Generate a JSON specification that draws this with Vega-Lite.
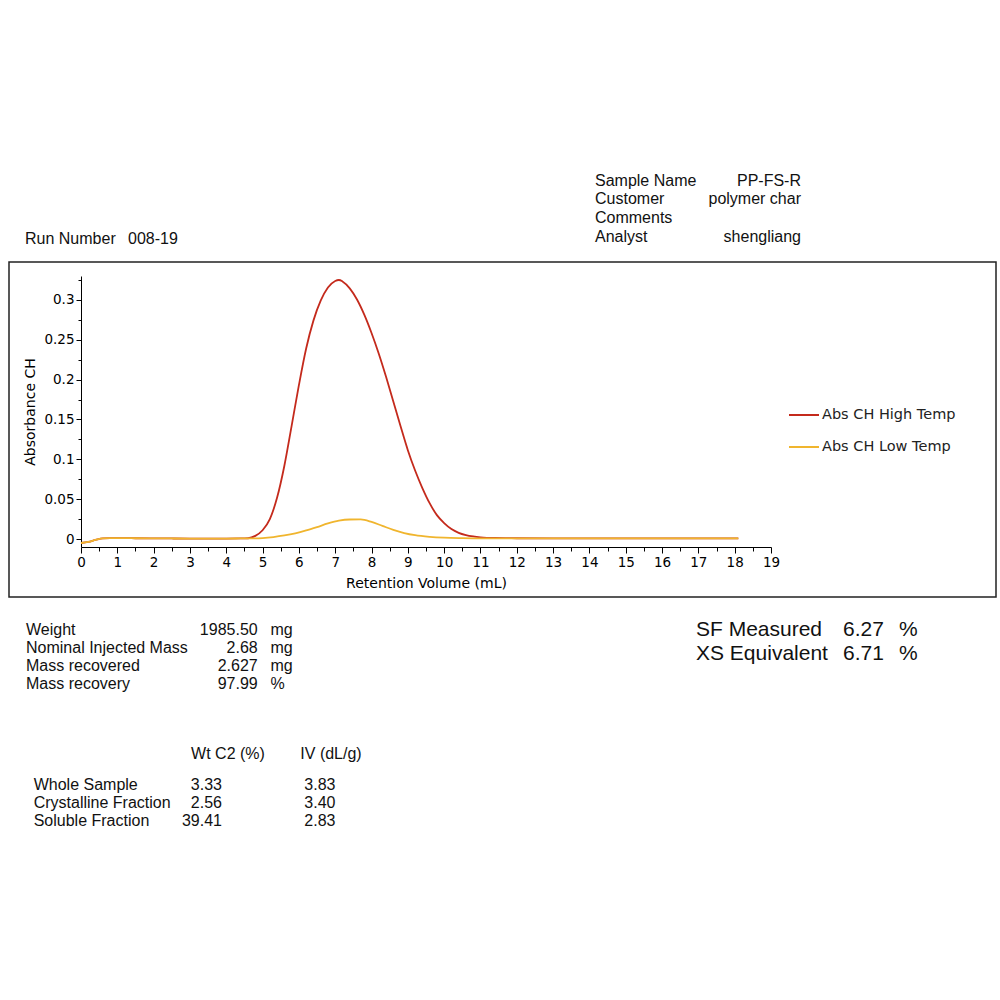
{
  "$schema": "https://vega.github.io/schema/vega-lite/v6.json",
  "padding": {"left": 8, "top": 170, "right": 0, "bottom": 0},
  "bounds": "flush",
  "spacing": 0,
  "background": "white",
  "config": {"view": {"stroke": null}},
  "datasets": {
    "header": [
      {"block": "run", "col": "label", "row": 4, "text": "Run Number"},
      {"block": "run", "col": "value", "row": 4, "text": "008-19"},
      {"block": "meta", "col": "label", "row": 1, "text": "Sample Name"},
      {"block": "meta", "col": "value", "row": 1, "text": "PP-FS-R"},
      {"block": "meta", "col": "label", "row": 2, "text": "Customer"},
      {"block": "meta", "col": "value", "row": 2, "text": "polymer char"},
      {"block": "meta", "col": "label", "row": 3, "text": "Comments"},
      {"block": "meta", "col": "label", "row": 4, "text": "Analyst"},
      {"block": "meta", "col": "value", "row": 4, "text": "shengliang"}
    ],
    "mass": [
      {"row": 1, "col": "label", "text": "Weight"},
      {"row": 1, "col": "value", "text": "1985.50"},
      {"row": 1, "col": "unit", "text": "mg"},
      {"row": 2, "col": "label", "text": "Nominal Injected Mass"},
      {"row": 2, "col": "value", "text": "2.68"},
      {"row": 2, "col": "unit", "text": "mg"},
      {"row": 3, "col": "label", "text": "Mass recovered"},
      {"row": 3, "col": "value", "text": "2.627"},
      {"row": 3, "col": "unit", "text": "mg"},
      {"row": 4, "col": "label", "text": "Mass recovery"},
      {"row": 4, "col": "value", "text": "97.99"},
      {"row": 4, "col": "unit", "text": "%"}
    ],
    "sf": [
      {"row": 1, "col": "label", "text": "SF Measured"},
      {"row": 1, "col": "value", "text": "6.27"},
      {"row": 1, "col": "unit", "text": "%"},
      {"row": 2, "col": "label", "text": "XS Equivalent"},
      {"row": 2, "col": "value", "text": "6.71"},
      {"row": 2, "col": "unit", "text": "%"}
    ],
    "fractions": [
      {"row": 0, "col": "c1", "text": "Wt C2 (%)"},
      {"row": 0, "col": "c2", "text": "IV (dL/g)"},
      {"row": 1, "col": "label", "text": "Whole Sample"},
      {"row": 1, "col": "c1", "text": "3.33"},
      {"row": 1, "col": "c2", "text": "3.83"},
      {"row": 2, "col": "label", "text": "Crystalline Fraction"},
      {"row": 2, "col": "c1", "text": "2.56"},
      {"row": 2, "col": "c2", "text": "3.40"},
      {"row": 3, "col": "label", "text": "Soluble Fraction"},
      {"row": 3, "col": "c1", "text": "39.41"},
      {"row": 3, "col": "c2", "text": "2.83"}
    ],
    "curves": [
      {"series": "Abs CH High Temp", "volume": 0, "absorbance": -0.005},
      {"series": "Abs CH High Temp", "volume": 0.2, "absorbance": -0.0035},
      {"series": "Abs CH High Temp", "volume": 0.4, "absorbance": -0.0012},
      {"series": "Abs CH High Temp", "volume": 0.6, "absorbance": 0.0008},
      {"series": "Abs CH High Temp", "volume": 0.8, "absorbance": 0.0012},
      {"series": "Abs CH High Temp", "volume": 1.0, "absorbance": 0.0012},
      {"series": "Abs CH High Temp", "volume": 1.5, "absorbance": 0.001},
      {"series": "Abs CH High Temp", "volume": 2.0, "absorbance": 0.0008},
      {"series": "Abs CH High Temp", "volume": 2.5, "absorbance": 0.0007},
      {"series": "Abs CH High Temp", "volume": 3.0, "absorbance": 0.0006},
      {"series": "Abs CH High Temp", "volume": 3.5, "absorbance": 0.0006},
      {"series": "Abs CH High Temp", "volume": 4.0, "absorbance": 0.0006},
      {"series": "Abs CH High Temp", "volume": 4.4, "absorbance": 0.0007},
      {"series": "Abs CH High Temp", "volume": 4.6, "absorbance": 0.001},
      {"series": "Abs CH High Temp", "volume": 4.8, "absorbance": 0.004},
      {"series": "Abs CH High Temp", "volume": 5.0, "absorbance": 0.011},
      {"series": "Abs CH High Temp", "volume": 5.2, "absorbance": 0.025},
      {"series": "Abs CH High Temp", "volume": 5.4, "absorbance": 0.052},
      {"series": "Abs CH High Temp", "volume": 5.6, "absorbance": 0.092},
      {"series": "Abs CH High Temp", "volume": 5.8, "absorbance": 0.142},
      {"series": "Abs CH High Temp", "volume": 6.0, "absorbance": 0.193},
      {"series": "Abs CH High Temp", "volume": 6.2, "absorbance": 0.239},
      {"series": "Abs CH High Temp", "volume": 6.4, "absorbance": 0.274},
      {"series": "Abs CH High Temp", "volume": 6.6, "absorbance": 0.299},
      {"series": "Abs CH High Temp", "volume": 6.8, "absorbance": 0.3155},
      {"series": "Abs CH High Temp", "volume": 7.0, "absorbance": 0.3238},
      {"series": "Abs CH High Temp", "volume": 7.1, "absorbance": 0.325},
      {"series": "Abs CH High Temp", "volume": 7.2, "absorbance": 0.3232},
      {"series": "Abs CH High Temp", "volume": 7.4, "absorbance": 0.3145},
      {"series": "Abs CH High Temp", "volume": 7.6, "absorbance": 0.3005},
      {"series": "Abs CH High Temp", "volume": 7.8, "absorbance": 0.2815},
      {"series": "Abs CH High Temp", "volume": 8.0, "absorbance": 0.2585},
      {"series": "Abs CH High Temp", "volume": 8.2, "absorbance": 0.2325},
      {"series": "Abs CH High Temp", "volume": 8.4, "absorbance": 0.2035},
      {"series": "Abs CH High Temp", "volume": 8.6, "absorbance": 0.1725},
      {"series": "Abs CH High Temp", "volume": 8.8, "absorbance": 0.1415},
      {"series": "Abs CH High Temp", "volume": 9.0, "absorbance": 0.1115},
      {"series": "Abs CH High Temp", "volume": 9.2, "absorbance": 0.086},
      {"series": "Abs CH High Temp", "volume": 9.4, "absorbance": 0.064},
      {"series": "Abs CH High Temp", "volume": 9.6, "absorbance": 0.045},
      {"series": "Abs CH High Temp", "volume": 9.8, "absorbance": 0.030},
      {"series": "Abs CH High Temp", "volume": 10.0, "absorbance": 0.020},
      {"series": "Abs CH High Temp", "volume": 10.2, "absorbance": 0.0125},
      {"series": "Abs CH High Temp", "volume": 10.4, "absorbance": 0.0078},
      {"series": "Abs CH High Temp", "volume": 10.6, "absorbance": 0.005},
      {"series": "Abs CH High Temp", "volume": 10.8, "absorbance": 0.0033},
      {"series": "Abs CH High Temp", "volume": 11.0, "absorbance": 0.0022},
      {"series": "Abs CH High Temp", "volume": 11.4, "absorbance": 0.0013},
      {"series": "Abs CH High Temp", "volume": 12.0, "absorbance": 0.001},
      {"series": "Abs CH High Temp", "volume": 13.0, "absorbance": 0.0008},
      {"series": "Abs CH High Temp", "volume": 14.0, "absorbance": 0.0008},
      {"series": "Abs CH High Temp", "volume": 15.0, "absorbance": 0.0008},
      {"series": "Abs CH High Temp", "volume": 16.0, "absorbance": 0.0008},
      {"series": "Abs CH High Temp", "volume": 17.0, "absorbance": 0.0008},
      {"series": "Abs CH High Temp", "volume": 18.1, "absorbance": 0.0008},
      {"series": "Abs CH Low Temp", "volume": 0, "absorbance": -0.005},
      {"series": "Abs CH Low Temp", "volume": 0.2, "absorbance": -0.0035},
      {"series": "Abs CH Low Temp", "volume": 0.4, "absorbance": -0.0012},
      {"series": "Abs CH Low Temp", "volume": 0.6, "absorbance": 0.0008},
      {"series": "Abs CH Low Temp", "volume": 0.8, "absorbance": 0.0012},
      {"series": "Abs CH Low Temp", "volume": 1.0, "absorbance": 0.0012},
      {"series": "Abs CH Low Temp", "volume": 1.5, "absorbance": 0.001},
      {"series": "Abs CH Low Temp", "volume": 2.0, "absorbance": 0.0008},
      {"series": "Abs CH Low Temp", "volume": 2.5, "absorbance": 0.0007},
      {"series": "Abs CH Low Temp", "volume": 3.0, "absorbance": 0.0006},
      {"series": "Abs CH Low Temp", "volume": 3.5, "absorbance": 0.0006},
      {"series": "Abs CH Low Temp", "volume": 4.0, "absorbance": 0.0006},
      {"series": "Abs CH Low Temp", "volume": 4.4, "absorbance": 0.0007},
      {"series": "Abs CH Low Temp", "volume": 4.8, "absorbance": 0.0008},
      {"series": "Abs CH Low Temp", "volume": 5.0, "absorbance": 0.0012},
      {"series": "Abs CH Low Temp", "volume": 5.3, "absorbance": 0.0025},
      {"series": "Abs CH Low Temp", "volume": 5.6, "absorbance": 0.0045},
      {"series": "Abs CH Low Temp", "volume": 5.9, "absorbance": 0.0072},
      {"series": "Abs CH Low Temp", "volume": 6.2, "absorbance": 0.0108},
      {"series": "Abs CH Low Temp", "volume": 6.5, "absorbance": 0.015},
      {"series": "Abs CH Low Temp", "volume": 6.8, "absorbance": 0.0195},
      {"series": "Abs CH Low Temp", "volume": 7.1, "absorbance": 0.023},
      {"series": "Abs CH Low Temp", "volume": 7.4, "absorbance": 0.0245},
      {"series": "Abs CH Low Temp", "volume": 7.7, "absorbance": 0.0246},
      {"series": "Abs CH Low Temp", "volume": 8.0, "absorbance": 0.0215},
      {"series": "Abs CH Low Temp", "volume": 8.3, "absorbance": 0.0165},
      {"series": "Abs CH Low Temp", "volume": 8.6, "absorbance": 0.0115},
      {"series": "Abs CH Low Temp", "volume": 8.9, "absorbance": 0.0075},
      {"series": "Abs CH Low Temp", "volume": 9.2, "absorbance": 0.0048},
      {"series": "Abs CH Low Temp", "volume": 9.6, "absorbance": 0.0028},
      {"series": "Abs CH Low Temp", "volume": 10.0, "absorbance": 0.0017},
      {"series": "Abs CH Low Temp", "volume": 10.5, "absorbance": 0.0011},
      {"series": "Abs CH Low Temp", "volume": 11.0, "absorbance": 0.0008},
      {"series": "Abs CH Low Temp", "volume": 12.0, "absorbance": 0.0008},
      {"series": "Abs CH Low Temp", "volume": 13.0, "absorbance": 0.0008},
      {"series": "Abs CH Low Temp", "volume": 14.0, "absorbance": 0.0008},
      {"series": "Abs CH Low Temp", "volume": 15.0, "absorbance": 0.0008},
      {"series": "Abs CH Low Temp", "volume": 16.0, "absorbance": 0.0008},
      {"series": "Abs CH Low Temp", "volume": 17.0, "absorbance": 0.0008},
      {"series": "Abs CH Low Temp", "volume": 18.1, "absorbance": 0.0008}
    ]
  },
  "vconcat": [
    {
      "width": 987,
      "height": 92,
      "data": {"name": "header"},
      "layer": [
        {
          "transform": [{"filter": "datum.block === 'run'"}],
          "mark": {"type": "text", "align": "left", "baseline": "middle", "font": "Liberation Sans", "fontSize": 16, "color": "#111", "dy": 2.5},
          "encoding": {
            "x": {"field": "col", "type": "nominal", "axis": null, "scale": {"type": "point", "domain": ["label", "value"], "range": [16, 119], "padding": 0}},
            "y": {"field": "row", "type": "ordinal", "axis": null, "scale": {"type": "point", "domain": [1, 2, 3, 4], "range": [10.5, 66.5], "padding": 0}},
            "text": {"field": "text"}
          }
        },
        {
          "transform": [{"filter": "datum.block === 'meta' && datum.col === 'label'"}],
          "mark": {"type": "text", "align": "left", "baseline": "middle", "font": "Liberation Sans", "fontSize": 16, "color": "#111"},
          "encoding": {
            "x": {"field": "col", "type": "nominal", "axis": null, "scale": {"type": "point", "domain": ["label"], "range": [586, 586], "padding": 0}},
            "y": {"field": "row", "type": "ordinal", "axis": null, "scale": {"type": "point", "domain": [1, 2, 3, 4], "range": [10.5, 66.5], "padding": 0}},
            "text": {"field": "text"}
          }
        },
        {
          "transform": [{"filter": "datum.block === 'meta' && datum.col === 'value'"}],
          "mark": {"type": "text", "align": "right", "baseline": "middle", "font": "Liberation Sans", "fontSize": 16, "color": "#111"},
          "encoding": {
            "x": {"field": "col", "type": "nominal", "axis": null, "scale": {"type": "point", "domain": ["value"], "range": [792, 792], "padding": 0}},
            "y": {"field": "row", "type": "ordinal", "axis": null, "scale": {"type": "point", "domain": [1, 2, 3, 4], "range": [10.5, 66.5], "padding": 0}},
            "text": {"field": "text"}
          }
        }
      ],
      "resolve": {"scale": {"x": "independent", "y": "independent"}}
    },
    {
      "width": 987,
      "height": 335,
      "view": {"stroke": "#222", "strokeWidth": 1.5},
      "data": {"name": "curves"},
      "mark": {"type": "line", "interpolate": "monotone", "strokeWidth": 1.8},
      "encoding": {
        "x": {
          "field": "volume", "type": "quantitative",
          "scale": {"domain": [0, 19], "range": [72, 762], "nice": false, "zero": false},
          "axis": {
            "title": "Retention Volume (mL)", "offset": -50,
            "values": [0, 0.5, 1, 1.5, 2, 2.5, 3, 3.5, 4, 4.5, 5, 5.5, 6, 6.5, 7, 7.5, 8, 8.5, 9, 9.5, 10, 10.5, 11, 11.5, 12, 12.5, 13, 13.5, 14, 14.5, 15, 15.5, 16, 16.5, 17, 17.5, 18, 18.5, 19],
            "format": "~g",
            "labelExpr": "datum.value % 1 === 0 ? datum.label : ''",
            "tickSize": {"condition": {"test": "datum.value % 1 !== 0", "value": 4}, "value": 6},
            "grid": false, "labelOverlap": false, "labelFlush": false,
            "domainColor": "#000", "tickColor": "#000", "labelColor": "#000", "titleColor": "#000",
            "labelFont": "DejaVu Sans", "labelFontSize": 13.5, "labelPadding": 2,
            "titleFont": "DejaVu Sans", "titleFontSize": 14, "titleFontWeight": "normal", "titlePadding": 8
          }
        },
        "y": {
          "field": "absorbance", "type": "quantitative",
          "scale": {"domain": [-0.01, 0.33], "range": [285, 14], "nice": false, "zero": false},
          "axis": {
            "title": "Absorbance CH", "offset": -72,
            "values": [0, 0.025, 0.05, 0.075, 0.1, 0.125, 0.15, 0.175, 0.2, 0.225, 0.25, 0.275, 0.3, 0.325],
            "format": "~g",
            "labelExpr": "round(datum.value * 1000) % 50 === 0 ? datum.label : ''",
            "tickSize": {"condition": {"test": "round(datum.value * 1000) % 50 !== 0", "value": 3}, "value": 5},
            "grid": false, "labelOverlap": false, "labelFlush": false,
            "domainColor": "#000", "tickColor": "#000", "labelColor": "#000", "titleColor": "#000",
            "labelFont": "DejaVu Sans", "labelFontSize": 13.5, "labelPadding": 2,
            "titleFont": "DejaVu Sans", "titleFontSize": 14, "titleFontWeight": "normal", "titlePadding": 6
          }
        },
        "color": {
          "field": "series", "type": "nominal",
          "scale": {"domain": ["Abs CH High Temp", "Abs CH Low Temp"], "range": ["#c42a1c", "#f0b52e"]},
          "legend": {
            "title": null, "orient": "none", "legendX": 779, "legendY": 229,
            "symbolType": "stroke", "symbolSize": 900, "symbolStrokeWidth": 2,
            "labelFont": "DejaVu Sans", "labelFontSize": 14.5, "labelColor": "#222",
            "labelOffset": 2, "rowPadding": 9, "padding": 0
          }
        }
      }
    },
    {
      "width": 987,
      "height": 240,
      "layer": [
        {
          "data": {"name": "mass"},
          "transform": [{"filter": "datum.col !== 'value'"}],
          "mark": {"type": "text", "align": "left", "baseline": "middle", "font": "Liberation Sans", "fontSize": 16, "color": "#111"},
          "encoding": {
            "x": {"field": "col", "type": "nominal", "axis": null, "scale": {"type": "point", "domain": ["label", "unit"], "range": [17, 261.5], "padding": 0}},
            "y": {"field": "row", "type": "ordinal", "axis": null, "scale": {"type": "point", "domain": [1, 2, 3, 4], "range": [33, 87], "padding": 0}},
            "text": {"field": "text"}
          }
        },
        {
          "data": {"name": "mass"},
          "transform": [{"filter": "datum.col === 'value'"}],
          "mark": {"type": "text", "align": "right", "baseline": "middle", "font": "Liberation Sans", "fontSize": 16, "color": "#111"},
          "encoding": {
            "x": {"field": "col", "type": "nominal", "axis": null, "scale": {"type": "point", "domain": ["value"], "range": [248.7, 248.7], "padding": 0}},
            "y": {"field": "row", "type": "ordinal", "axis": null, "scale": {"type": "point", "domain": [1, 2, 3, 4], "range": [33, 87], "padding": 0}},
            "text": {"field": "text"}
          }
        },
        {
          "data": {"name": "sf"},
          "transform": [{"filter": "datum.col !== 'unit'"}],
          "mark": {"type": "text", "align": "left", "baseline": "middle", "font": "Liberation Sans", "fontSize": 21, "color": "#111"},
          "encoding": {
            "x": {"field": "col", "type": "nominal", "axis": null, "scale": {"type": "point", "domain": ["label", "value"], "range": [687, 834], "padding": 0}},
            "y": {"field": "row", "type": "ordinal", "axis": null, "scale": {"type": "point", "domain": [1, 2], "range": [32.5, 56.5], "padding": 0}},
            "text": {"field": "text"}
          }
        },
        {
          "data": {"name": "sf"},
          "transform": [{"filter": "datum.col === 'unit'"}],
          "mark": {"type": "text", "align": "left", "baseline": "middle", "font": "Liberation Sans", "fontSize": 21, "color": "#111"},
          "encoding": {
            "x": {"field": "col", "type": "nominal", "axis": null, "scale": {"type": "point", "domain": ["unit"], "range": [890, 890], "padding": 0}},
            "y": {"field": "row", "type": "ordinal", "axis": null, "scale": {"type": "point", "domain": [1, 2], "range": [32.5, 56.5], "padding": 0}},
            "text": {"field": "text"}
          }
        },
        {
          "data": {"name": "fractions"},
          "transform": [{"filter": "datum.col === 'label'"}],
          "mark": {"type": "text", "align": "left", "baseline": "middle", "font": "Liberation Sans", "fontSize": 16, "color": "#111"},
          "encoding": {
            "x": {"field": "col", "type": "nominal", "axis": null, "scale": {"type": "point", "domain": ["label"], "range": [24.7, 24.7], "padding": 0}},
            "y": {"field": "row", "type": "ordinal", "axis": null, "scale": {"type": "point", "domain": [1, 2, 3], "range": [188, 224], "padding": 0}},
            "text": {"field": "text"}
          }
        },
        {
          "data": {"name": "fractions"},
          "transform": [{"filter": "datum.col !== 'label' && datum.row > 0"}],
          "mark": {"type": "text", "align": "right", "baseline": "middle", "font": "Liberation Sans", "fontSize": 16, "color": "#111"},
          "encoding": {
            "x": {"field": "col", "type": "nominal", "axis": null, "scale": {"type": "point", "domain": ["c1", "c2"], "range": [213, 326.5], "padding": 0}},
            "y": {"field": "row", "type": "ordinal", "axis": null, "scale": {"type": "point", "domain": [1, 2, 3], "range": [188, 224], "padding": 0}},
            "text": {"field": "text"}
          }
        },
        {
          "data": {"name": "fractions"},
          "transform": [{"filter": "datum.row === 0"}],
          "mark": {"type": "text", "align": "center", "baseline": "middle", "font": "Liberation Sans", "fontSize": 16, "color": "#111"},
          "encoding": {
            "x": {"field": "col", "type": "nominal", "axis": null, "scale": {"type": "point", "domain": ["c1", "c2"], "range": [219, 322], "padding": 0}},
            "y": {"field": "row", "type": "ordinal", "axis": null, "scale": {"type": "point", "domain": [0], "range": [157, 157], "padding": 0}},
            "text": {"field": "text"}
          }
        }
      ],
      "resolve": {"scale": {"x": "independent", "y": "independent"}}
    }
  ]
}
